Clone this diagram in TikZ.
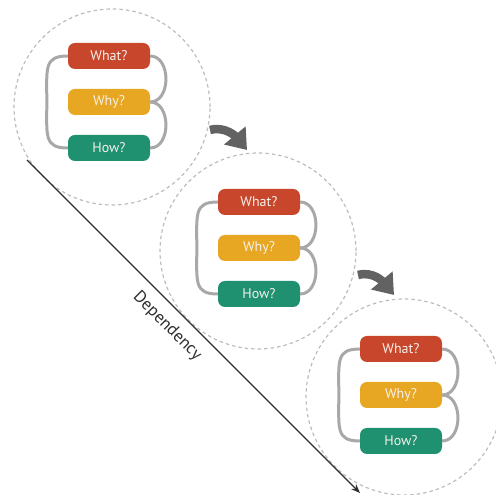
\documentclass[tikz,border=0pt]{standalone}
\usepackage{fontspec}
\setmainfont{PT Sans}
\usetikzlibrary{arrows.meta,backgrounds}
\definecolor{whatred}{HTML}{C8462B}
\definecolor{whyamber}{HTML}{E8A722}
\definecolor{howgreen}{HTML}{1F9070}
\definecolor{boxtext}{HTML}{F6F0EA}
\definecolor{loopgray}{HTML}{A8A8A8}
\definecolor{framegray}{HTML}{BDBDBD}
\definecolor{arrowgray}{HTML}{626262}
\definecolor{depgray}{HTML}{2E2E2E}
\begin{document}
\begin{tikzpicture}[x=1pt,y=1pt,
  qbox/.style={rounded corners=7pt, minimum width=82pt, minimum height=26pt,
    inner sep=0pt, text=boxtext, font=\fontsize{14}{14}\selectfont},
  qloop/.style={draw=loopgray, line width=3pt},
  frame/.style={draw=framegray, line width=1.2pt, dash pattern=on 3.5pt off 3pt,
    circle, minimum size=196pt, inner sep=0pt},
  turn/.style={draw=arrowgray, line width=8.5pt, -{Triangle[length=19pt,width=27pt]}},
  dep/.style={draw=depgray, line width=1.1pt, -{Stealth[length=9pt,width=7pt]}}]
\useasboundingbox (0,0) rectangle (496,495);

% three dashed frames, each holding a What / Why / How cycle
\foreach \i/\cx/\cy/\bx/\by in {1/112/388/109/393, 2/258/244/259/247, 3/404/98/401/100} {
  \node[frame] (c\i) at (\cx,\cy) {};
  \node[qbox, fill=whatred]  (w\i) at (\bx,\by+46) {What?};
  \node[qbox, fill=whyamber] (y\i) at (\bx,\by)    {Why?};
  \node[qbox, fill=howgreen] (h\i) at (\bx,\by-46) {How?};
  \begin{pgfonlayer}{background}
    % long loop on the left, from What? down to How?
    \draw[qloop] (w\i.west) .. controls +(-24,0) and +(0,34) .. ([xshift=-21pt]y\i.west)
      .. controls +(0,-34) and +(-24,0) .. (h\i.west);
    % two short loops on the right
    \draw[qloop] (w\i.east) .. controls +(21,0) and +(21,0) .. (y\i.east);
    \draw[qloop] (y\i.east) .. controls +(21,0) and +(21,0) .. (h\i.east);
  \end{pgfonlayer}
}

% curved arrows leading from one frame to the next
\coordinate (ta) at (210,365);
\coordinate (ha) at (247,345);
\coordinate (tb) at (358,220);
\coordinate (hb) at (394,200);
\draw[turn] (ta) to[out=15,in=130] (ha);
\draw[turn] (tb) to[out=15,in=130] (hb);

% dependency axis
\coordinate (ds) at (27,335);
\coordinate (de) at (360,2);
\draw[dep] (ds) -- (de)
  node[pos=0.46, sloped, below=10pt, inner sep=0pt, text=depgray,
       font=\fontsize{17}{17}\selectfont] (deplabel) {Dependency};
\end{tikzpicture}
\end{document}
